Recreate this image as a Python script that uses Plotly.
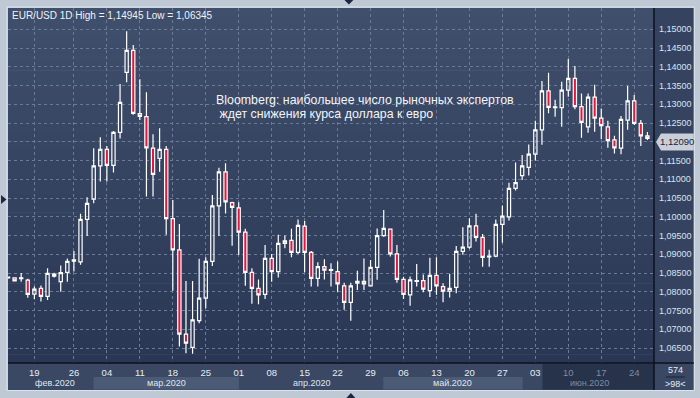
import plotly.graph_objects as go

# ---------------- data (EUR/USD daily candles) ----------------
open_ = [1.0837, 1.0837, 1.0835, 1.0831, 1.0794, 1.0809, 1.0788, 1.0842, 1.0827, 1.0852,
         1.0882, 1.0880, 1.0993, 1.1047, 1.1136, 1.1180, 1.1137, 1.1225, 1.1385, 1.1444,
         1.1275, 1.1267, 1.1183, 1.1156, 1.1180, 1.0995, 1.0912, 1.0687, 1.0652, 1.0723,
         1.0783, 1.0881, 1.1029, 1.1120, 1.1038, 1.1024, 1.0959, 1.0852, 1.0809, 1.0793,
         1.0889, 1.0854, 1.0929, 1.0937, 1.0905, 1.0975, 1.0905, 1.0836, 1.0867, 1.0857,
         1.0854, 1.0816, 1.0772, 1.0823, 1.0828, 1.0816, 1.0865, 1.0950, 1.0967, 1.0901,
         1.0833, 1.0792, 1.0828, 1.0830, 1.0803, 1.0844, 1.0814, 1.0802, 1.0812, 1.0908,
         1.0919, 1.0976, 1.0945, 1.0893, 1.0895, 1.0980, 1.1000, 1.1076, 1.1110, 1.1132,
         1.1167, 1.1232, 1.1336, 1.1291, 1.1291, 1.1338, 1.1369, 1.1294, 1.1240, 1.1319,
         1.1263, 1.1240, 1.1205, 1.1183, 1.1258, 1.1309, 1.1249, 1.1216]
high = [1.0841, 1.0838, 1.0850, 1.0835, 1.0814, 1.0817, 1.0863, 1.0851, 1.0870, 1.0889,
        1.0909, 1.1008, 1.1052, 1.1183, 1.1212, 1.1189, 1.1229, 1.1354, 1.14945, 1.1458,
        1.1367, 1.1332, 1.1220, 1.1236, 1.1189, 1.1045, 1.0981, 1.0829, 1.0829, 1.0888,
        1.0892, 1.1058, 1.1131, 1.1143, 1.1040, 1.1039, 1.0968, 1.0863, 1.0833, 1.0925,
        1.0901, 1.0952, 1.0950, 1.0968, 1.0993, 1.0989, 1.0909, 1.0879, 1.0887, 1.0876,
        1.0881, 1.0824, 1.0824, 1.0856, 1.0889, 1.0885, 1.0969, 1.1018, 1.0969, 1.0925,
        1.0840, 1.0841, 1.0874, 1.0846, 1.0891, 1.0892, 1.0823, 1.0848, 1.0922, 1.0972,
        1.0996, 1.1008, 1.0954, 1.0912, 1.0993, 1.1030, 1.1091, 1.1145, 1.1165, 1.1193,
        1.1256, 1.1362, 1.1384, 1.1312, 1.1360, 1.1421, 1.1402, 1.1329, 1.1329, 1.1352,
        1.1289, 1.1256, 1.1216, 1.1269, 1.1349, 1.1325, 1.1258, 1.1226]
low = [1.0835, 1.0828, 1.0827, 1.0784, 1.0780, 1.0774, 1.0778, 1.0838, 1.0800, 1.0827,
       1.0854, 1.0872, 1.0949, 1.1036, 1.1094, 1.1094, 1.1118, 1.1209, 1.1359, 1.1272,
       1.1258, 1.1054, 1.1054, 1.1120, 1.0952, 1.0803, 1.0654, 1.0636, 1.06345, 1.0716,
       1.0756, 1.0869, 1.0949, 1.1009, 1.0923, 1.0898, 1.0816, 1.0768, 1.0767, 1.0781,
       1.0827, 1.0838, 1.0916, 1.0892, 1.0901, 1.0852, 1.0814, 1.0814, 1.0833, 1.0814,
       1.0800, 1.0752, 1.0723, 1.0805, 1.0805, 1.0814, 1.0832, 1.0947, 1.0894, 1.0824,
       1.0781, 1.0763, 1.0814, 1.0799, 1.0786, 1.0792, 1.0772, 1.0785, 1.0796, 1.0899,
       1.0915, 1.0934, 1.0867, 1.0867, 1.0892, 1.0931, 1.0990, 1.1070, 1.1098, 1.1110,
       1.1150, 1.1192, 1.1276, 1.1267, 1.1240, 1.1320, 1.1287, 1.1211, 1.1224, 1.1227,
       1.1207, 1.1184, 1.1169, 1.1167, 1.1232, 1.1245, 1.1189, 1.1205]
close = [1.0839, 1.0829, 1.0837, 1.0793, 1.0807, 1.0788, 1.0849, 1.0847, 1.0851, 1.0881,
         1.0885, 1.0993, 1.1036, 1.1136, 1.1180, 1.1137, 1.1225, 1.1305, 1.1444, 1.1276,
         1.1268, 1.1184, 1.1113, 1.1180, 1.0995, 1.0912, 1.0687, 1.0663, 1.0725, 1.0783,
         1.0881, 1.1029, 1.1120, 1.1040, 1.1025, 1.0959, 1.0852, 1.0809, 1.0792, 1.0889,
         1.0854, 1.0929, 1.0936, 1.0905, 1.0977, 1.0905, 1.0836, 1.0867, 1.0858, 1.0859,
         1.0821, 1.0772, 1.0816, 1.0828, 1.0821, 1.0865, 1.0950, 1.0969, 1.0901, 1.0833,
         1.0793, 1.0832, 1.0830, 1.0807, 1.0844, 1.0816, 1.0802, 1.0809, 1.0908, 1.0919,
         1.0976, 1.0945, 1.0892, 1.0895, 1.0980, 1.1002, 1.1076, 1.1091, 1.1136, 1.1167,
         1.1232, 1.1336, 1.1292, 1.1293, 1.1338, 1.1369, 1.1294, 1.1252, 1.1319, 1.1263,
         1.1243, 1.1203, 1.1184, 1.1260, 1.1309, 1.1249, 1.1216, 1.1209]

day_tick_index = [4, 10, 15, 20, 25, 30, 35, 40, 45, 50, 55, 60, 65, 70, 75, 80, 85, 90, 95]
day_tick_labels = ['19', '26', '04', '11', '18', '25', '01', '08', '15', '22',
                   '29', '06', '13', '20', '27', '03', '10', '17', '24']
dim_day_labels = ['10', '17', '24']
price_ticks = [1.065, 1.070, 1.075, 1.080, 1.085, 1.090, 1.095, 1.100, 1.105,
               1.110, 1.115, 1.120, 1.125, 1.130, 1.135, 1.140, 1.145, 1.150]
price_tick_labels = ['1,06500', '1,07000', '1,07500', '1,08000', '1,08500', '1,09000',
                     '1,09500', '1,10000', '1,10500', '1,11000', '1,11500', '',
                     '1,12500', '1,13000', '1,13500', '1,14000', '1,14500', '1,15000']
month_labels = ['фев.2020', 'мар.2020', 'апр.2020', 'май.2020', 'июн.2020']
title_text = 'EUR/USD 1D High = 1,14945 Low = 1,06345'
note_lines = ['Bloomberg: наибольшее число рыночных экспертов', ' ждет снижения курса доллара к евро']
bars_info = ['574', '>98<']

# ---------------- layout geometry ----------------
W, H = 700, 398
PL, PR, PT, PB = 8, 657, 8, 363
FONT = 'Liberation Sans, Arial, sans-serif'

def px(x):
    return (x - PL) / (PR - PL)

def py(y):
    return (PB - y) / (PB - PT)

x_idx = list(range(len(close)))
y_lo, y_hi = 1.06101, 1.15568

fig = go.Figure()
fig.add_trace(go.Candlestick(
    x=x_idx, open=open_, high=high, low=low, close=close,
    increasing=dict(line=dict(color='#ffffff', width=1.2), fillcolor='rgba(0,0,0,0)'),
    decreasing=dict(line=dict(color='#ffffff', width=1.2), fillcolor='#e3173e'),
    whiskerwidth=0, hoverinfo='skip', showlegend=False,
))

shapes = []
# gradient plot background
top_c = (64, 79, 108)
bot_c = (41, 55, 85)
N = 40
for k in range(N):
    t = (k + 0.5) / N
    c = tuple(round(top_c[j] + (bot_c[j] - top_c[j]) * t) for j in range(3))
    shapes.append(dict(type='rect', xref='paper', yref='paper', layer='below',
                       x0=0, x1=1, y0=1 - k / N, y1=1 - (k + 1) / N + (-0.002 if k < N - 1 else 0),
                       fillcolor='rgb(%d,%d,%d)' % c, line=dict(width=0)))
# right price panel
shapes.append(dict(type='rect', xref='paper', yref='paper', layer='below',
                   x0=px(PR), x1=px(697), y0=py(PT), y1=py(PB),
                   fillcolor='#354360', line=dict(width=0)))
# date axis band + bottom-right box
shapes.append(dict(type='rect', xref='paper', yref='paper', layer='below',
                   x0=px(PL), x1=px(697), y0=py(PB), y1=py(390),
                   fillcolor='#3a4863', line=dict(width=0)))
# month highlight bands
for (a, b) in [(94, 240), (385, 525)]:
    shapes.append(dict(type='rect', xref='paper', yref='paper', layer='below',
                       x0=px(a), x1=px(b), y0=py(377), y1=py(389.5),
                       fillcolor='#4b5a75', line=dict(width=0)))
shapes.append(dict(type='rect', xref='paper', yref='paper', layer='below',
                   x0=px(545), x1=px(PR), y0=py(364), y1=py(389.5),
                   fillcolor='#27334b', line=dict(width=0)))
# dark separators
shapes.append(dict(type='line', xref='paper', yref='paper', layer='above',
                   x0=px(PR), x1=px(PR), y0=py(PT), y1=py(390),
                   line=dict(color='#0c111c', width=1.5)))
shapes.append(dict(type='line', xref='paper', yref='paper', layer='above',
                   x0=px(PL), x1=px(697), y0=py(PB), y1=py(PB),
                   line=dict(color='#0c111c', width=1.5)))
shapes.append(dict(type='line', xref='paper', yref='paper', layer='above',
                   x0=px(669), x1=px(688), y0=py(377), y1=py(377),
                   line=dict(color='#1a2233', width=1)))
# frame border
shapes.append(dict(type='rect', xref='paper', yref='paper', layer='below',
                   x0=px(7), x1=px(697.5), y0=py(7), y1=py(390.5),
                   fillcolor='rgba(0,0,0,0)', line=dict(color='#dde3ea', width=1)))
# small navigation triangles on the frame
def tri(pts):
    p = 'M ' + ' L '.join('%f,%f' % (px(a), py(b)) for a, b in pts) + ' Z'
    return dict(type='path', xref='paper', yref='paper', layer='above', path=p,
                fillcolor='#1b2740', line=dict(width=0))
shapes.append(tri([(1, 195), (6.5, 199.5), (1, 204)]))
shapes.append(tri([(346, 0), (355, 0), (350.5, 4.5)]))
shapes.append(tri([(348, 398), (357, 398), (352.5, 393)]))

# last price marker
last = close[-1]
yc = (last - y_lo) / (y_hi - y_lo) - 3.5 / (PB - PT)
hh = 8.5 / (PB - PT)
shapes.append(dict(type='path', xref='paper', yref='paper', layer='above',
                   path='M %f,%f L %f,%f L %f,%f L %f,%f L %f,%f Z' % (
                       px(659), yc, px(664), yc + hh, px(697), yc + hh, px(697), yc - hh, px(664), yc - hh),
                   fillcolor='#c9cfd8', line=dict(width=0)))

annotations = []
annotations.append(dict(xref='paper', yref='paper', x=px(680.5), y=yc, text=('%.5f' % last).replace('.', ','),
                        showarrow=False, xanchor='center', yanchor='middle',
                        font=dict(family=FONT, size=9.5, color='#18203a')))
annotations.append(dict(xref='paper', yref='paper', x=px(10), y=py(15.5), text=title_text,
                        showarrow=False, xanchor='left', yanchor='middle',
                        font=dict(family=FONT, size=10, color='#eef3f9')))
for k, (line, yy) in enumerate(zip(note_lines, [99.5, 113.5])):
    annotations.append(dict(xref='paper', yref='paper', x=px(215), y=py(yy),
                            text=line.replace(' ', '&nbsp;') if k else line,
                            showarrow=False, xanchor='left', yanchor='middle',
                            font=dict(family=FONT, size=12.4, color='#f2f5fa')))
month_x = [55, 167, 313, 455, 592]
for m, mx in zip(month_labels, month_x):
    annotations.append(dict(xref='paper', yref='paper', x=px(mx), y=py(383), text=m,
                            showarrow=False, xanchor='center', yanchor='middle',
                            font=dict(family=FONT, size=9,
                                      color='#7f8ba1' if m.startswith('июн') else '#dfe7f2')))
for t, yy in zip(bars_info, [370, 384]):
    annotations.append(dict(xref='paper', yref='paper', x=px(678.5), y=py(yy), text=t,
                            showarrow=False, xanchor='center', yanchor='middle',
                            font=dict(family=FONT, size=9, color='#e6edf6')))

tick_text = ['<span style="color:#7f8ba1">%s</span>' % s if (s in dim_day_labels and i >= 85) else s
             for s, i in zip(day_tick_labels, day_tick_index)]

fig.update_layout(
    width=W, height=H,
    margin=dict(l=PL, r=W - PR, t=PT, b=H - PB, pad=0),
    paper_bgcolor='#bfc9d5', plot_bgcolor='rgba(0,0,0,0)',
    shapes=shapes, annotations=annotations, showlegend=False,
    xaxis=dict(range=[0, 98], tickmode='array', tickvals=day_tick_index, ticktext=tick_text,
               showgrid=True, gridcolor='#6b7a96', griddash='3px,3px', gridwidth=1,
               zeroline=False, showline=False, ticks='', rangeslider=dict(visible=False),
               tickfont=dict(family=FONT, size=9.5, color='#e6edf6'), ticklabelstandoff=2,
               fixedrange=True),
    yaxis=dict(range=[y_lo, y_hi], side='right', tickmode='array', tickvals=price_ticks,
               ticktext=price_tick_labels, showgrid=True, gridcolor='#6b7a96',
               griddash='3px,3px', gridwidth=1,
               zeroline=False, showline=False, ticks='',
               tickfont=dict(family=FONT, size=9, color='#d8e3f2'), ticklabelstandoff=4,
               fixedrange=True),
)

fig.write_html('out.html', config={'displayModeBar': False},
               post_script="document.body.style.margin='0';document.body.style.overflow='hidden';")
